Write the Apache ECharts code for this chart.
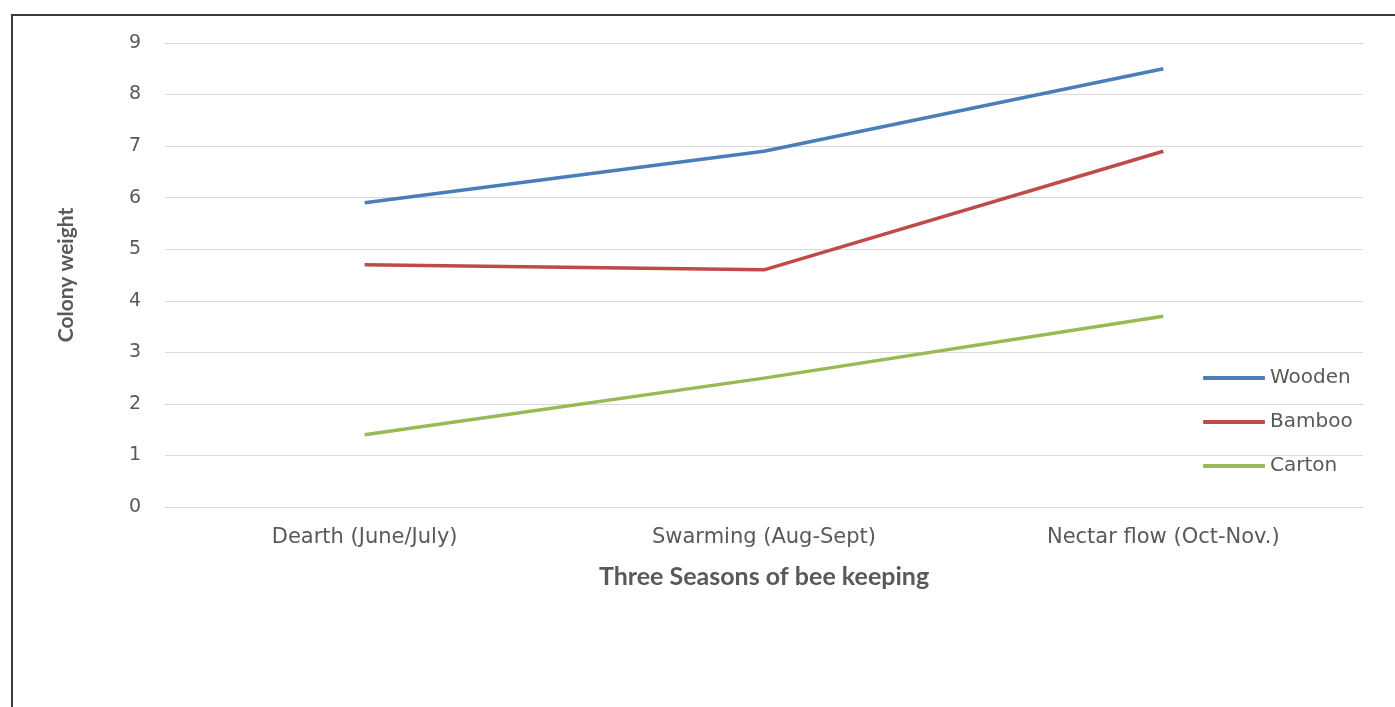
<!DOCTYPE html>
<html>
<head>
<meta charset="utf-8">
<script src="https://cdn.jsdelivr.net/npm/echarts@6/dist/echarts.min.js"></script>
<style>
  html, body { margin: 0; padding: 0; background: #fff; }
  #chart { width: 1395px; height: 707px; }
</style>
</head>
<body>
<div id="chart"></div>
<script>
// Seasons of bee keeping and colony weight per hive type
const seasons = ['Dearth (June/July)', 'Swarming (Aug-Sept)', 'Nectar flow (Oct-Nov.)'];
const wooden = [5.9, 6.9, 8.5];
const bamboo = [4.7, 4.6, 6.9];
const carton = [1.4, 2.5, 3.7];
const yTicks = { min: 0, max: 9, interval: 1 };

const textColor = '#595959';
const gridColor = '#d9d9d9';
const labelFont = 'DejaVu Sans';

function lineSeries(name, data, color) {
  return {
    name: name,
    type: 'line',
    data: data,
    symbol: 'none',
    lineStyle: { color: color, width: 3.5 },
    itemStyle: { color: color }
  };
}

const chart = echarts.init(document.getElementById('chart'));
chart.setOption({
  animation: false,
  backgroundColor: '#fff',
  graphic: [{
    type: 'rect',
    shape: { x: 12, y: 15, width: 1500, height: 800 },
    style: { fill: 'none', stroke: '#3a3a3a', lineWidth: 2 },
    silent: true
  }],
  grid: { left: 165, right: 32, top: 43, bottom: 200 },
  legend: {
    orient: 'vertical',
    left: 1198,
    top: 363,
    itemWidth: 62,
    itemHeight: 4,
    itemGap: 24,
    icon: 'roundRect',
    textStyle: { color: textColor, fontFamily: labelFont, fontSize: 20, padding: [0, 0, 0, 0] },
    data: ['Wooden', 'Bamboo', 'Carton']
  },
  xAxis: {
    type: 'category',
    data: seasons,
    boundaryGap: true,
    name: 'Three Seasons of bee keeping',
    nameLocation: 'middle',
    nameGap: 57,
    nameTextStyle: { color: textColor, fontFamily: 'Lato', fontWeight: 'bold', fontSize: 25 },
    axisLine: { lineStyle: { color: gridColor, width: 1 } },
    axisTick: { show: false },
    axisLabel: { color: textColor, fontFamily: labelFont, fontSize: 21, margin: 20 }
  },
  yAxis: {
    type: 'value',
    min: yTicks.min,
    max: yTicks.max,
    interval: yTicks.interval,
    name: 'Colony weight',
    nameLocation: 'middle',
    nameGap: 88,
    nameRotate: 90,
    nameTextStyle: { color: textColor, fontFamily: 'Lato', fontWeight: 'bold', fontSize: 21 },
    axisLine: { show: false },
    axisTick: { show: false },
    axisLabel: { color: textColor, fontFamily: labelFont, fontSize: 19, margin: 24 },
    splitLine: { lineStyle: { color: gridColor, width: 1 } }
  },
  series: [
    lineSeries('Wooden', wooden, '#4a7ebb'),
    lineSeries('Bamboo', bamboo, '#be4b48'),
    lineSeries('Carton', carton, '#98b954')
  ]
});
</script>
</body>
</html>
